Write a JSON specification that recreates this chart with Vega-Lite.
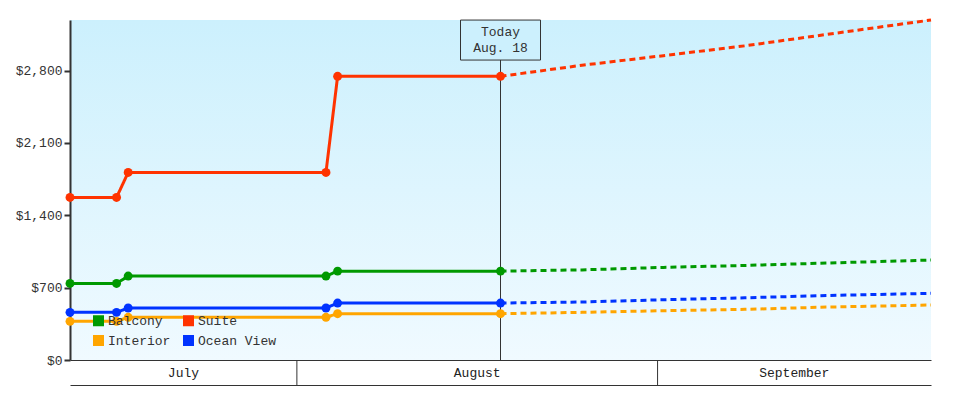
{
  "$schema": "https://vega.github.io/schema/vega-lite/v6.json",
  "background": "white",
  "bounds": "flush",
  "padding": {"left": 15, "top": 14, "right": 49, "bottom": 15},
  "spacing": 0,
  "config": {
    "font": "Liberation Mono",
    "view": {"stroke": null},
    "axis": {"labelFont": "Liberation Mono", "labelFontSize": 13, "labelColor": "#333", "grid": false, "title": null, "domainColor": "#333", "tickColor": "#333"}
  },
  "vconcat": [
    {
      "width": 861,
      "height": 340,
      "view": {
        "stroke": null,
        "fill": {"gradient": "linear", "x1": 0, "y1": 0, "x2": 0, "y2": 1, "stops": [{"offset": 0, "color": "#ccf0fd"}, {"offset": 1, "color": "#f0faff"}]}
      },
      "layer": [
        {
          "data": {"values": [{"label": "Today"}]},
          "mark": {"type": "rule", "color": "#333", "strokeWidth": 1},
          "encoding": {
            "x": {
              "datum": {"year": 2024, "month": 8, "date": 18, "hours": 12}, "type": "temporal",
              "scale": {"domain": [{"year": 2024, "month": 7, "date": 12, "hours": 12}, {"year": 2024, "month": 9, "date": 24, "hours": 12}]},
              "axis": {"labels": false, "ticks": false, "domain": true, "domainWidth": 1, "minExtent": 0, "maxExtent": 0, "offset": 0}
            },
            "y": {
              "datum": 0, "type": "quantitative",
              "scale": {"domain": [0, 3290], "nice": false, "zero": true},
              "axis": {"values": [0, 700, 1400, 2100, 2800], "format": "$,.0f", "tickSize": 6, "tickWidth": 2, "domainWidth": 2, "labelPadding": 2}
            },
            "y2": {"datum": 2903}
          }
        },
        {
          "data": {
            "values": [
              {"cabin": "Suite", "kind": "actual", "date": "2024-07-12T12:00:00", "price": 1573},
              {"cabin": "Suite", "kind": "actual", "date": "2024-07-16T12:00:00", "price": 1573},
              {"cabin": "Suite", "kind": "actual", "date": "2024-07-17T12:00:00", "price": 1815},
              {"cabin": "Suite", "kind": "actual", "date": "2024-08-03T12:00:00", "price": 1815},
              {"cabin": "Suite", "kind": "actual", "date": "2024-08-04T12:00:00", "price": 2745},
              {"cabin": "Suite", "kind": "actual", "date": "2024-08-18T12:00:00", "price": 2745},
              {"cabin": "Balcony", "kind": "actual", "date": "2024-07-12T12:00:00", "price": 741},
              {"cabin": "Balcony", "kind": "actual", "date": "2024-07-16T12:00:00", "price": 741},
              {"cabin": "Balcony", "kind": "actual", "date": "2024-07-17T12:00:00", "price": 812},
              {"cabin": "Balcony", "kind": "actual", "date": "2024-08-03T12:00:00", "price": 812},
              {"cabin": "Balcony", "kind": "actual", "date": "2024-08-04T12:00:00", "price": 860},
              {"cabin": "Balcony", "kind": "actual", "date": "2024-08-18T12:00:00", "price": 860},
              {"cabin": "Ocean View", "kind": "actual", "date": "2024-07-12T12:00:00", "price": 461},
              {"cabin": "Ocean View", "kind": "actual", "date": "2024-07-16T12:00:00", "price": 461},
              {"cabin": "Ocean View", "kind": "actual", "date": "2024-07-17T12:00:00", "price": 503},
              {"cabin": "Ocean View", "kind": "actual", "date": "2024-08-03T12:00:00", "price": 503},
              {"cabin": "Ocean View", "kind": "actual", "date": "2024-08-04T12:00:00", "price": 551},
              {"cabin": "Ocean View", "kind": "actual", "date": "2024-08-18T12:00:00", "price": 551},
              {"cabin": "Interior", "kind": "actual", "date": "2024-07-12T12:00:00", "price": 374},
              {"cabin": "Interior", "kind": "actual", "date": "2024-07-16T12:00:00", "price": 374},
              {"cabin": "Interior", "kind": "actual", "date": "2024-07-17T12:00:00", "price": 413},
              {"cabin": "Interior", "kind": "actual", "date": "2024-08-03T12:00:00", "price": 413},
              {"cabin": "Interior", "kind": "actual", "date": "2024-08-04T12:00:00", "price": 448},
              {"cabin": "Interior", "kind": "actual", "date": "2024-08-18T12:00:00", "price": 448},
              {"cabin": "Suite", "kind": "forecast", "date": "2024-08-18T12:00:00", "price": 2745},
              {"cabin": "Suite", "kind": "forecast", "date": "2024-08-25T12:00:00", "price": 2852},
              {"cabin": "Suite", "kind": "forecast", "date": "2024-09-01T12:00:00", "price": 2945},
              {"cabin": "Suite", "kind": "forecast", "date": "2024-09-08T12:00:00", "price": 3040},
              {"cabin": "Suite", "kind": "forecast", "date": "2024-09-15T12:00:00", "price": 3150},
              {"cabin": "Suite", "kind": "forecast", "date": "2024-09-24T12:00:00", "price": 3290},
              {"cabin": "Balcony", "kind": "forecast", "date": "2024-08-18T12:00:00", "price": 860},
              {"cabin": "Balcony", "kind": "forecast", "date": "2024-08-25T12:00:00", "price": 872},
              {"cabin": "Balcony", "kind": "forecast", "date": "2024-09-01T12:00:00", "price": 896},
              {"cabin": "Balcony", "kind": "forecast", "date": "2024-09-08T12:00:00", "price": 915},
              {"cabin": "Balcony", "kind": "forecast", "date": "2024-09-15T12:00:00", "price": 938},
              {"cabin": "Balcony", "kind": "forecast", "date": "2024-09-24T12:00:00", "price": 967},
              {"cabin": "Ocean View", "kind": "forecast", "date": "2024-08-18T12:00:00", "price": 551},
              {"cabin": "Ocean View", "kind": "forecast", "date": "2024-08-25T12:00:00", "price": 561},
              {"cabin": "Ocean View", "kind": "forecast", "date": "2024-09-01T12:00:00", "price": 583},
              {"cabin": "Ocean View", "kind": "forecast", "date": "2024-09-08T12:00:00", "price": 602},
              {"cabin": "Ocean View", "kind": "forecast", "date": "2024-09-15T12:00:00", "price": 624},
              {"cabin": "Ocean View", "kind": "forecast", "date": "2024-09-24T12:00:00", "price": 645},
              {"cabin": "Interior", "kind": "forecast", "date": "2024-08-18T12:00:00", "price": 448},
              {"cabin": "Interior", "kind": "forecast", "date": "2024-08-25T12:00:00", "price": 461},
              {"cabin": "Interior", "kind": "forecast", "date": "2024-09-01T12:00:00", "price": 477},
              {"cabin": "Interior", "kind": "forecast", "date": "2024-09-08T12:00:00", "price": 490},
              {"cabin": "Interior", "kind": "forecast", "date": "2024-09-15T12:00:00", "price": 512},
              {"cabin": "Interior", "kind": "forecast", "date": "2024-09-24T12:00:00", "price": 532}
            ]
          },
          "encoding": {
            "x": {"field": "date", "type": "temporal"},
            "y": {"field": "price", "type": "quantitative"}
          },
          "layer": [
            {
              "mark": {"type": "line", "strokeWidth": 3},
              "encoding": {
                "color": {
                  "field": "cabin", "type": "nominal",
                  "scale": {"domain": ["Balcony", "Interior", "Suite", "Ocean View"], "range": ["#009900", "#ffa500", "#ff3300", "#0033ff"]},
                  "legend": {
                    "title": null, "orient": "none", "legendX": 22, "legendY": 294, "columns": 2,
                    "symbolType": "square", "symbolSize": 121, "labelFontSize": 13, "labelFont": "Liberation Mono", "labelColor": "#333",
                    "columnPadding": 11, "rowPadding": 6, "labelOffset": 3, "symbolStrokeWidth": 0,
                    "encode": {"symbols": {"update": {"fill": {"scale": "color", "field": "value"}, "strokeWidth": {"value": 0}, "opacity": {"value": 1}}}}
                  }
                },
                "strokeDash": {
                  "field": "kind", "type": "nominal",
                  "scale": {"domain": ["actual", "forecast"], "range": [[1, 0], [6, 4]]},
                  "legend": null
                }
              }
            },
            {
              "transform": [{"filter": "datum.kind === 'actual'"}],
              "mark": {"type": "point", "shape": "circle", "filled": true, "opacity": 1, "size": 80},
              "encoding": {
                "color": {"field": "cabin", "type": "nominal"}
              }
            }
          ]
        },
        {
          "data": {"values": [{"label": "Today"}]},
          "mark": {"type": "point", "shape": "M-1,-0.5H1V0.5H-1Z", "size": 6400, "filled": true, "fill": "#ccf0fd", "stroke": "#333", "strokeWidth": 1, "opacity": 1},
          "encoding": {
            "x": {"datum": {"year": 2024, "month": 8, "date": 18, "hours": 12}, "type": "temporal"},
            "y": {"datum": 3096, "type": "quantitative"}
          }
        },
        {
          "data": {"values": [{"label": "Today"}]},
          "mark": {"type": "text", "text": ["Today", "Aug. 18"], "fontSize": 13, "font": "Liberation Mono", "color": "#333", "baseline": "middle", "align": "center", "lineHeight": 16, "dy": -8},
          "encoding": {
            "x": {"datum": {"year": 2024, "month": 8, "date": 18, "hours": 12}, "type": "temporal"},
            "y": {"datum": 3096, "type": "quantitative"}
          }
        }
      ]
    },
    {
      "width": 861,
      "height": 25,
      "view": {"stroke": null},
      "layer": [
        {
          "data": {"values": [{"boundary": "2024-08-01T00:00:00"}, {"boundary": "2024-09-01T00:00:00"}]},
          "mark": {"type": "rule", "color": "#333", "strokeWidth": 1},
          "encoding": {
            "x": {
              "field": "boundary", "type": "temporal",
              "scale": {"domain": [{"year": 2024, "month": 7, "date": 12, "hours": 12}, {"year": 2024, "month": 9, "date": 24, "hours": 12}]},
              "axis": {"labels": false, "ticks": false, "domain": true, "domainWidth": 1, "domainColor": "#333", "minExtent": 0, "maxExtent": 0}
            }
          }
        },
        {
          "data": {"values": [{"month": "July", "mid": "2024-07-22T06:00:00"}, {"month": "August", "mid": "2024-08-16T12:00:00"}, {"month": "September", "mid": "2024-09-12T18:00:00"}]},
          "mark": {"type": "text", "fontSize": 13, "font": "Liberation Mono", "color": "#222", "baseline": "middle", "align": "center"},
          "encoding": {
            "x": {"field": "mid", "type": "temporal"},
            "text": {"field": "month", "type": "nominal"}
          }
        }
      ]
    }
  ]
}
